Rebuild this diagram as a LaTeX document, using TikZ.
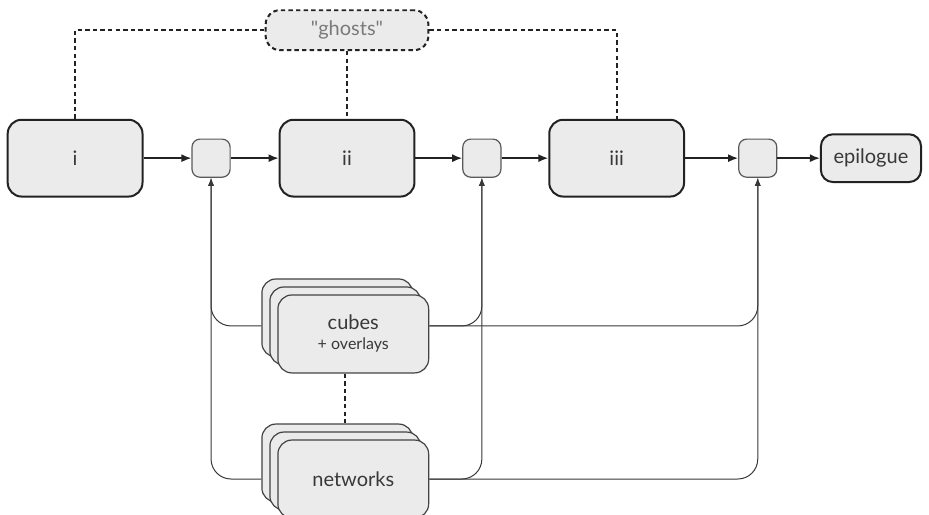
\documentclass[tikz,border=0pt]{standalone}
\usepackage{fontspec}
\setmainfont{Lato}
\usetikzlibrary{arrows.meta}
\usetikzlibrary{shadows}
\definecolor{boxfill}{HTML}{EBEBEB}
\definecolor{ink}{HTML}{222222}
\definecolor{faint}{HTML}{7A7A7A}

\begin{document}
\begin{tikzpicture}
    \tikzset{stage/.style={draw=ink, line width=1pt, fill=boxfill, rounded corners=7pt, minimum width=2.37cm, minimum height=1.35cm, text=ink!90}}
    \tikzset{merge/.style={draw=ink!75, line width=0.6pt, fill=boxfill, rounded corners=4pt, minimum size=0.67cm}}
    \tikzset{stack/.style={draw=ink!85, line width=0.6pt, fill=boxfill, rounded corners=7pt, minimum width=2.65cm, minimum height=1.37cm, align=center, text=ink!90, double copy shadow={shadow xshift=-4pt, shadow yshift=4pt}}}
    \tikzset{flow/.style={draw=ink, line width=0.8pt, -{Latex[length=5pt, width=4pt]}}}
    \tikzset{feed/.style={draw=ink!90, line width=0.5pt, rounded corners=10pt, -{Latex[length=4pt, width=3pt]}}}
    \tikzset{ghost/.style={draw=ink, line width=1pt, dash pattern=on 2.2pt off 1.6pt}}
    \useasboundingbox (0, 0) rectangle (16.33, -9.05);
    % main line
    \node[stage] (first) at (1.32, -2.78) {i};
    \node[merge] (mergea) at (3.71, -2.78) {};
    \node[stage] (second) at (6.10, -2.78) {ii};
    \node[merge] (mergeb) at (8.47, -2.78) {};
    \node[stage] (third) at (10.84, -2.78) {iii};
    \node[merge] (mergec) at (13.32, -2.78) {};
    \node[stage, minimum width=1.76cm, minimum height=0.84cm, rounded corners=6pt] (epilogue) at (15.31, -2.78) {epilogue};
    \node[stage, ghost, minimum width=2.86cm, minimum height=0.70cm, text=faint] (ghosts) at (6.10, -0.53) {\textquotedbl ghosts\textquotedbl};
    \draw[flow] (first) -- (mergea);
    \draw[flow] (mergea) -- (second);
    \draw[flow] (second) -- (mergeb);
    \draw[flow] (mergeb) -- (third);
    \draw[flow] (third) -- (mergec);
    \draw[flow] (mergec) -- (epilogue);
    \draw[ghost] (first.north) |- (ghosts.west);
    \draw[ghost] (ghosts.south) -- (second.north);
    \draw[ghost] (ghosts.east) -| (third.north);
    % inputs
    \node[stack] (cubes) at (6.21, -5.87) {cubes\\[-2pt]{\footnotesize + overlays}};
    \node[stack] (networks) at (6.21, -8.42) {networks};
    \draw[ghost] ([xshift=-4pt]cubes.south) -- ([xshift=-4pt, yshift=8pt]networks.north);
    \draw[feed] ([xshift=-8pt, yshift=4pt]cubes.west) -| (mergea.south);
    \draw[feed] ([yshift=4pt]cubes.east) -| (mergeb.south);
    \draw[feed] ([yshift=4pt]cubes.east) -| (mergec.south);
    \draw[feed] ([xshift=-8pt]networks.west) -| (mergea.south);
    \draw[feed] (networks.east) -| (mergeb.south);
    \draw[feed] (networks.east) -| (mergec.south);
\end{tikzpicture}
\end{document}
